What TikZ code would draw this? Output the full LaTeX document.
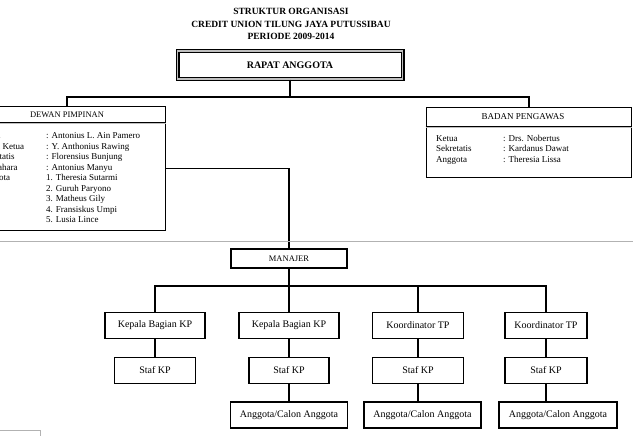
\documentclass[tikz,border=0pt]{standalone}
\usepackage{fontspec}
\setmainfont{Liberation Serif}
\usetikzlibrary{positioning, calc}

\begin{document}
\begin{tikzpicture}[x=1pt, y=-1pt,
    box/.style={draw, line width=1.8pt, minimum height=26, inner sep=0pt, font=\fontsize{10}{11}\selectfont},
    panel/.style={draw, line width=1.8pt, inner sep=0pt},
    link/.style={line width=1.7pt},
    sep/.style={line width=0.7pt, double=gray!50, double distance=0.8pt},
    roster/.style={anchor=north west, inner sep=0pt, font=\fontsize{9}{10.5}\selectfont},
    scan/.style={gray!60, line width=0.8pt}]
    \useasboundingbox (0,0) rectangle (633,436);
    \clip (0,0) rectangle (633,436);
    \node[font=\fontsize{9.5}{12.5}\selectfont\bfseries, align=center] (title) at (291,24) {STRUKTUR ORGANISASI\\CREDIT UNION TILUNG JAYA PUTUSSIBAU\\PERIODE 2009-2014};
    \node[draw, line width=1.3pt, double=gray!50, double distance=1.4pt, minimum width=225, minimum height=28, font=\fontsize{10}{11}\selectfont\bfseries] (ra) at (290,65) {RAPAT ANGGOTA};
    % dewan pimpinan & badan pengawas
    \node[panel, minimum width=197, minimum height=124] (dp) at (67,168.5) {};
    \node[font=\fontsize{8.5}{10}\selectfont] (dphead) at ($(dp.north)+(0,9)$) {DEWAN PIMPINAN};
    \draw[sep] ($(dp.north west)+(0,17.5)$) -- ($(dp.north east)+(0,17.5)$);
    \node[roster] (dplist) at (-21,131) {\begin{tabular}{@{}p{67pt}@{}l@{}}
        Ketua & : Antonius L. Ain Pamero\\
        Wakil Ketua & : Y. Anthonius Rawing\\
        Sekretatis & : Florensius Bunjung\\
        Bendahara & : Antonius Manyu\\
        Anggota & 1. Theresia Sutarmi\\
        & 2. Guruh Paryono\\
        & 3. Matheus Gily\\
        & 4. Fransiskus Umpi\\
        & 5. Lusia Lince
    \end{tabular}};
    \node[panel, minimum width=205, minimum height=70] (bp) at (529,142.5) {};
    \node[font=\fontsize{9}{10}\selectfont] (bphead) at ($(bp.north)+(-6,10)$) {BADAN PENGAWAS};
    \draw[sep] ($(bp.north west)+(0,20.5)$) -- ($(bp.north east)+(0,20.5)$);
    \node[roster] (bplist) at (436,133.5) {\begin{tabular}{@{}p{67pt}@{}l@{}}
        Ketua & : Drs. Nobertus\\
        Sekretatis & : Kardanus Dawat\\
        Anggota & : Theresia Lissa
    \end{tabular}};
    \coordinate (bus1) at (0,97);
    \draw[link] (ra.south) -- (ra.south |- bus1);
    \draw[link] (dp.north) -- (dp.north |- bus1) -- (bp.north |- bus1) -- (bp.north);
    % manajer and units
    \node[box, minimum width=116, minimum height=18.5, font=\fontsize{8.5}{10}\selectfont] (mgr) at (289,258.5) {MANAJER};
    \draw[link] (dp.east) -| (mgr.north);
    \node[box, minimum width=100] (kb1) at (155,325.5) {Kepala Bagian KP};
    \node[box, minimum width=100] (kb2) at (289,325.5) {Kepala Bagian KP};
    \node[box, minimum width=91] (kt1) at (418,325.5) {Koordinator TP};
    \node[box, minimum width=82] (kt2) at (546,325.5) {Koordinator TP};
    \node[box, minimum width=81] (st1) at (155,370.5) {Staf KP};
    \node[box, minimum width=80] (st2) at (289,370.5) {Staf KP};
    \node[box, minimum width=91] (st3) at (418,370.5) {Staf KP};
    \node[box, minimum width=82] (st4) at (546,370.5) {Staf KP};
    \node[box, minimum width=117] (ag2) at (289,415) {Anggota/Calon Anggota};
    \node[box, minimum width=117] (ag3) at (422.5,415) {Anggota/Calon Anggota};
    \node[box, minimum width=118] (ag4) at (558,415) {Anggota/Calon Anggota};
    \coordinate (bus2) at (0,286);
    \draw[link] (mgr.south) -- (kb2.north);
    \draw[link] (kb1.north) -- (kb1.north |- bus2) -- (kt2.north |- bus2) -- (kt2.north);
    \draw[link] (kt1.north) -- (kt1.north |- bus2);
    \draw[link] (kb1) -- (st1);
    \draw[link] (kb2) -- (st2);
    \draw[link] (kt1) -- (st3);
    \draw[link] (kt2) -- (st4);
    \draw[link] (st2) -- (ag2);
    \draw[link] (st3.south) -- (st3.south |- ag3.north);
    \draw[link] (st4.south) -- (st4.south |- ag4.north);
    % scan marks
    \draw[scan] (0,241) -- (633,241);
    \draw[scan] (0,430) -- (40,430) -- (40,436);
\end{tikzpicture}
\end{document}
